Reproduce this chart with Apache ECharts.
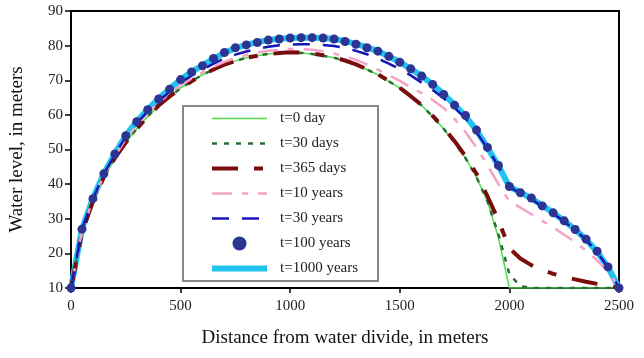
<!DOCTYPE html>
<html><head><meta charset="utf-8">
<script src="https://cdn.jsdelivr.net/npm/echarts@6/dist/echarts.min.js"></script>
<style>html,body{margin:0;padding:0;background:#fff}#c{width:644px;height:358px}</style>
</head><body><div id="c"></div>
<script>
const distance = [0,50,100,150,200,250,300,350,400,450,500,550,600,650,700,750,800,850,900,950,1000,1050,1100,1150,1200,1250,1300,1350,1400,1450,1500,1550,1600,1650,1700,1750,1800,1850,1900,1950,2000,2050,2100,2150,2200,2250,2300,2350,2400,2450,2500];
const t0day = [10,26,35,42,47.5,52,56,59.5,62.7,65.3,67.7,69.7,71.6,73.1,74.5,75.6,76.5,77.1,77.6,77.9,78,77.9,77.6,77.1,76.5,75.6,74.5,73.1,71.6,69.7,67.7,65.3,62.7,59.5,56,52,47.5,42,35,24.5,10,10,10,10,10,10,10,10,10,10,10];
const t30days = [10,26,35,42,47.5,52,56,59.5,62.7,65.3,67.7,69.7,71.6,73.1,74.5,75.6,76.5,77.1,77.6,77.9,78,77.9,77.6,77.1,76.5,75.6,74.5,73.1,71.6,69.7,67.7,65.3,62.7,59.5,56,52,47.5,42,35,25.5,14,10.5,10,10,10,10,10,10,10,10,10];
const t365days = [10,26,35,42,47.5,52,56,59.5,62.7,65.3,67.7,69.7,71.6,73.1,74.5,75.6,76.5,77.1,77.6,77.9,78.1,78,77.7,77.2,76.6,75.7,74.6,73.2,71.7,69.8,67.8,65.4,62.8,59.7,56.3,52.4,48,43,36.5,29.5,21.5,18.5,16.6,15.2,14.1,13.2,12.5,11.8,11.2,10.7,10];
const t10years = [10,26.5,35.5,42.5,48,53,57,60.5,63.5,66.2,68.5,70.5,72.3,73.9,75.3,76.4,77.3,78,78.5,78.8,79,79,78.8,78.4,77.7,76.9,75.9,74.6,73.1,71.5,69.8,68,66.3,64.3,62,58.8,55,50.5,45.5,40,35,33.2,31.3,29.4,27.5,25.4,23.2,20.8,18,14.8,10];
const t30years = [10,27,35.7,43,48.5,53.7,57.6,61,64,66.7,69.3,71.3,73,74.8,76.3,77.4,78.3,79.1,79.7,80.1,80.3,80.4,80.4,80.2,79.9,79.3,78.5,77.5,76.3,74.8,73.2,71.4,69.3,67.2,64.8,62,59,55,50.3,45.2,39.2,37.3,35.7,33.5,31.5,29.2,26.7,23.9,20.4,15.9,10];
const t100years = [10,27,35.8,43,48.7,54,58,61.5,64.6,67.4,70.2,72.4,74.2,76.3,78,79.4,80.2,80.9,81.6,81.9,82.2,82.3,82.3,82.2,81.9,81.2,80.4,79.4,78.4,76.9,75.2,73.3,71.2,68.8,65.9,62.8,59.8,55.6,50.6,45.4,39.3,37.5,36,33.7,31.7,29.4,26.9,24.1,20.6,16.1,10];
const t1000years = [10,27,35.9,43.1,48.8,54,58.1,61.6,64.7,67.5,70.2,72.4,74.3,76.2,77.9,79.3,80.2,81,81.6,82,82.2,82.3,82.3,82.2,81.9,81.3,80.5,79.5,78.4,76.9,75.2,73.3,71.2,68.8,66,62.9,59.6,55.5,50.6,45.3,39.3,37.6,35.9,33.8,31.7,29.4,26.9,24,20.5,16,10];
const seriesNames = ['t=0 day','t=30 days','t=365 days','t=10 years','t=30 years','t=100 years','t=1000 years'];
const xTicks = {min:0, max:2500, interval:500};
const yTicks = {min:10, max:90, interval:10};

const pairs = arr => distance.map((d,i)=>[d, arr[i]]);
const FONT = '"Liberation Serif","Times New Roman",serif';

const legendData = seriesNames.map(n => n === 't=100 years' ? {name:n} : {name:n, itemStyle:{opacity:0}});

const chart = echarts.init(document.getElementById('c'), null, {renderer:'canvas'});
chart.setOption({
  animation:false,
  backgroundColor:'#fff',
  textStyle:{fontFamily:FONT},
  grid:{left:70, right:25, top:11, bottom:70, show:true, borderColor:'#000', borderWidth:2},
  xAxis:{type:'value', min:xTicks.min, max:xTicks.max, interval:xTicks.interval,
    name:'Distance from water divide, in meters', nameLocation:'middle', nameGap:41,
    nameTextStyle:{fontFamily:FONT, fontSize:19, color:'#111'},
    axisLine:{show:true, lineStyle:{color:'#000', width:2}},
    axisTick:{show:true, inside:false, length:5, lineStyle:{color:'#000', width:1.5}},
    axisLabel:{fontFamily:FONT, fontSize:15, color:'#222', margin:11, formatter:v=>String(v)},
    splitLine:{show:false}},
  yAxis:{type:'value', min:yTicks.min, max:yTicks.max, interval:yTicks.interval,
    name:'Water level, in meters', nameLocation:'middle', nameGap:44,
    nameTextStyle:{fontFamily:FONT, fontSize:19, color:'#111'},
    axisLine:{show:true, lineStyle:{color:'#000', width:2}},
    axisTick:{show:true, inside:false, length:6, lineStyle:{color:'#000', width:1.5}},
    axisLabel:{fontFamily:FONT, fontSize:15, color:'#222', margin:8, formatter:v=>String(v)},
    splitLine:{show:false}},
  legend:{orient:'vertical', left:183, top:106, itemWidth:55, itemHeight:14, itemGap:10,
    padding:[5,20,5,26], backgroundColor:'#fff', borderColor:'#888', borderWidth:2,
    lineStyle:{width:'inherit'},
    textStyle:{fontFamily:FONT, fontSize:15, color:'#222', padding:[0,0,0,8]},
    data:legendData},
  series:[
    {name:seriesNames[6], type:'line', data:pairs(t1000years), showSymbol:false, symbol:'none', z:2,
      lineStyle:{color:'#22c3ee', width:6}, itemStyle:{color:'#22c3ee'}},
    {name:seriesNames[0], type:'line', data:pairs(t0day), symbol:'none', z:3,
      lineStyle:{color:'#4fdc4f', width:1.5}, itemStyle:{color:'#4fdc4f'}},
    {name:seriesNames[1], type:'line', data:pairs(t30days), symbol:'none', z:4,
      lineStyle:{color:'#2a6e35', width:2.5, type:[5,7]}, itemStyle:{color:'#2a6e35'}},
    {name:seriesNames[2], type:'line', data:pairs(t365days), symbol:'none', z:5,
      lineStyle:{color:'#7a0c0c', width:4, type:[26,16,9,16]}, itemStyle:{color:'#7a0c0c'}},
    {name:seriesNames[3], type:'line', data:pairs(t10years), symbol:'none', z:6,
      lineStyle:{color:'#f4a2c6', width:2.5, type:[20,10,6,10]}, itemStyle:{color:'#f4a2c6'}},
    {name:seriesNames[4], type:'line', data:pairs(t30years), symbol:'none', z:7,
      lineStyle:{color:'#1414b8', width:2.5, type:[17,13]}, itemStyle:{color:'#1414b8'}},
    {name:seriesNames[5], type:'scatter', data:pairs(t100years), symbol:'circle', symbolSize:9, z:8, clip:false,
      itemStyle:{color:'#2c3494', opacity:1}}
  ]
});
</script></body></html>
